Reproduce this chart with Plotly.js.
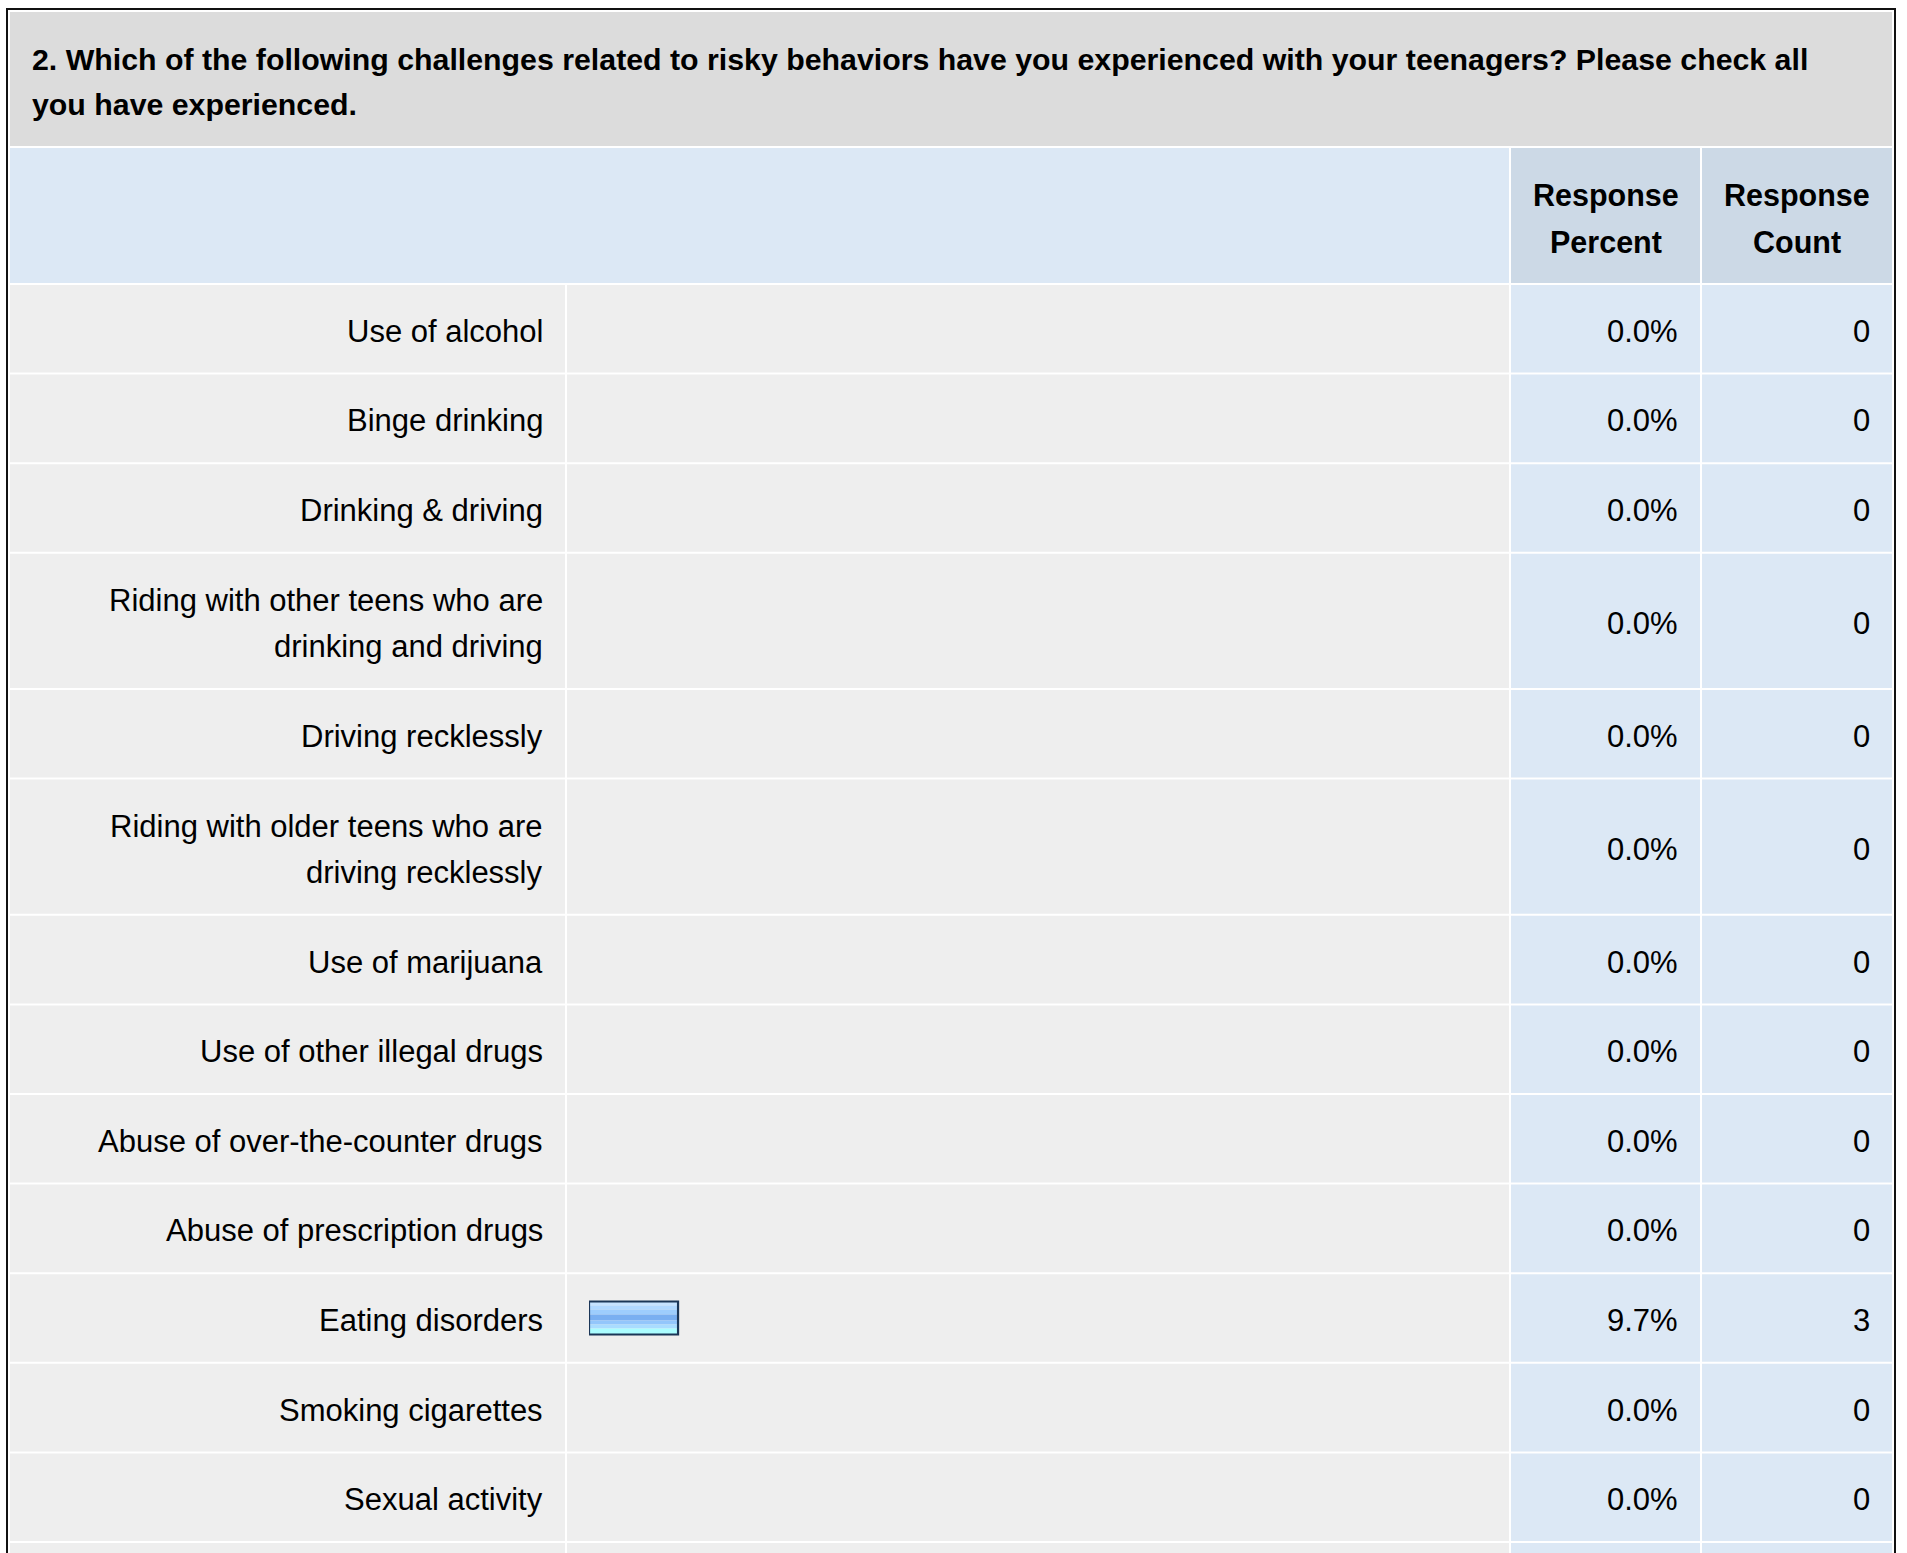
<!DOCTYPE html>
<html><head><meta charset="utf-8">
<script src="https://cdn.plot.ly/plotly-3.0.1.min.js"></script>
<style>html,body{margin:0;padding:0;background:#fff;overflow:hidden;} #chart{width:1907px;height:1553px;}</style>
</head><body><div id="chart"></div>
<script>
// ---- data ----
const questionLines = [
  "2. Which of the following challenges related to risky behaviors have you experienced with your teenagers? Please check all",
  "you have experienced."
];
const columnHeaders = ["Response<br>Percent", "Response<br>Count"];
const categories = [
  "Use of alcohol",
  "Binge drinking",
  "Drinking &amp; driving",
  "Riding with other teens who are<br>drinking and driving",
  "Driving recklessly",
  "Riding with older teens who are<br>driving recklessly",
  "Use of marijuana",
  "Use of other illegal drugs",
  "Abuse of over-the-counter drugs",
  "Abuse of prescription drugs",
  "Eating disorders",
  "Smoking cigarettes",
  "Sexual activity"
];
const responsePercent = [0, 0, 0, 0, 0, 0, 0, 0, 0, 0, 9.7, 0, 0];
const responseCount   = [0, 0, 0, 0, 0, 0, 0, 0, 0, 0, 3, 0, 0];

// ---- layout geometry (pixels) ----
const W = 1907, H = 1553;
const px = v => v / W;
const py = v => 1 - v / H;
const FONT = "Liberation Sans, Arial, Helvetica, sans-serif";
const FS_TITLE = 30.3, FS_HEAD = 30.5, FS_REG = 31;

const colX = [[10, 565], [567, 1509], [1511, 1700], [1702, 1892]];
const rowFill = ["#eeeeee", "#eeeeee", "#dce8f5", "#dce8f5"];
const firstRowTop = 283;
const singleRowH = 89.6, extraLineH = 46.6, lineStep = 46;

const tops = [], centers = [], heights = [];
let t = firstRowTop;
categories.forEach(c => {
  const n = c.split("<br>").length;
  const h = singleRowH + (n - 1) * extraLineH;
  tops.push(t); heights.push(h);
  centers.push(t + 2 + (h - 2) / 2);
  t += h;
});
const endTop = t;

const shapes = [];
function rect(x0, y0, x1, y1, color) {
  shapes.push({type: "rect", xref: "paper", yref: "paper", layer: "below",
    x0: px(x0), x1: px(x1), y0: py(y1), y1: py(y0),
    fillcolor: color, line: {width: 0}});
}
// outer black frame
rect(6, 8, 1896, 10, "#111111");
rect(6, 8, 8, H + 5, "#111111");
rect(1894, 8, 1896, H + 5, "#111111");
// title band
rect(10, 12, 1892, 146, "#dcdcdc");
// header band
rect(10, 148, 1509, 283, "#dce8f5");
rect(1511, 148, 1700, 283, "#ccd9e6");
rect(1702, 148, 1892, 283, "#ccd9e6");
// body rows
tops.forEach((tp, i) => {
  colX.forEach((cx, j) => rect(cx[0], tp + 2, cx[1], tp + heights[i], rowFill[j]));
});
// partially visible next row
colX.forEach((cx, j) => rect(cx[0], endTop + 2, cx[1], H + 5, rowFill[j]));

const annotations = [];
function txt(x, y, s, anchor, bold, size) {
  annotations.push({xref: "paper", yref: "paper", x: px(x), y: py(y), text: bold ? "<b>" + s + "</b>" : s,
    showarrow: false, xanchor: anchor, yanchor: "middle", align: anchor,
    font: {family: FONT, size: size, color: "#000000"}});
}
function multi(x, yc, s, anchor, bold, size) {
  const lines = s.split("<br>");
  lines.forEach((ln, k) => txt(x, yc + (k - (lines.length - 1) / 2) * lineStep, ln, anchor, bold, size));
}
// title
questionLines.forEach((ln, k) => txt(30, 59.5 + k * 45, ln, "left", true, FS_TITLE));
// headers
multi(1606, 218.5, columnHeaders[0], "center", true, FS_HEAD);
multi(1797, 218.5, columnHeaders[1], "center", true, FS_HEAD);
// rows
const textDy = 2.5;
categories.forEach((c, i) => {
  multi(545, centers[i] + textDy, c, "right", false, FS_REG);
  txt(1680, centers[i] + textDy, responsePercent[i].toFixed(1) + "%", "right", false, FS_REG);
  txt(1872, centers[i] + textDy, String(responseCount[i]), "right", false, FS_REG);
});

// bar stripes (offset from bar top, thickness, colour) - pixel styling
const stripes = [
  [0, 4, "#c6e3ff"], [4, 4, "#b0d8ff"], [8, 5, "#9dcdfd"], [13, 6, "#79aff1"],
  [19, 4, "#93c6fb"], [23, 4, "#a9dcff"], [27, 6, "#abfdff"]
];
const barH = 33;
const shown = responsePercent.map(v => (v > 0 ? v : null));
const traces = stripes.map(s => ({
  type: "bar", orientation: "h", x: shown, y: centers, base: 0,
  width: s[1], offset: -barH / 2 + s[0],
  marker: {color: s[2], line: {width: 0}}, hoverinfo: "skip", showlegend: false
}));
traces.push({
  type: "bar", orientation: "h", x: shown, y: centers, base: 0,
  width: barH, offset: -barH / 2,
  marker: {color: "rgba(0,0,0,0)", line: {width: 2.2, color: "#1b3657"}}, hoverinfo: "skip", showlegend: false
});

const layout = {
  width: W, height: H,
  margin: {l: 0, r: 0, t: 0, b: 0, pad: 0},
  paper_bgcolor: "#ffffff", plot_bgcolor: "rgba(0,0,0,0)",
  barmode: "overlay", showlegend: false, hovermode: false,
  xaxis: {domain: [589 / W, 1507 / W], range: [0, 100], visible: false, fixedrange: true},
  yaxis: {domain: [0, 1], range: [H, 0], visible: false, fixedrange: true},
  shapes: shapes, annotations: annotations
};
Plotly.newPlot("chart", traces, layout, {staticPlot: true, displayModeBar: false});
</script>
</body></html>
